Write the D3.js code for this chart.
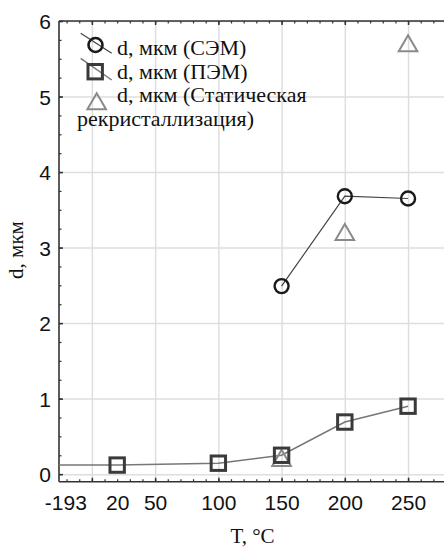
<!DOCTYPE html>
<html><head><meta charset="utf-8">
<script src="https://cdn.jsdelivr.net/npm/d3@7"></script>
<style>
html,body{margin:0;padding:0;background:#fff;}
svg{display:block;}
</style></head>
<body>
<svg id="chart" width="444" height="548"></svg>
<script>
// ---- data ----
const semT = [150, 200, 250];
const semD = [2.49, 3.68, 3.65];
const pemT = [-193, 20, 100, 150, 200, 250];
const pemD = [0.12, 0.12, 0.145, 0.25, 0.69, 0.90];
const statT = [150, 200, 250];
const statD = [0.18, 3.17, 5.67];
const xLabelPos = [-21, 20, 50, 100, 150, 200, 250];
const xLabels = ["-193", "20", "50", "100", "150", "200", "250"];
const yTicks = [0, 1, 2, 3, 4, 5, 6];
const legendLabels = ["d, мкм (СЭМ)", "d, мкм (ПЭМ)", "d, мкм (Статическая", "рекристаллизация)"];

const svg = d3.select("#chart");
const L = 59, R = 446, T = 21, B = 481.7;
const x = d3.scaleLinear().domain([-26, 280]).range([L, R]);
const y = d3.scaleLinear().domain([-0.1, 6]).range([B, T]);
const sans = "'Liberation Sans', Arial, sans-serif";
const serif = "'Liberation Serif', 'Times New Roman', serif";

// clip
svg.append("defs").append("clipPath").attr("id", "clip")
  .append("rect").attr("x", L).attr("y", T).attr("width", R - L).attr("height", B - T);

// grid
const grid = svg.append("g");
grid.append("g").attr("transform", `translate(0,${B})`)
  .call(d3.axisBottom(x).tickValues([0, 50, 100, 150, 200, 250]).tickSize(-(B - T)).tickFormat(""))
  .call(g => g.select(".domain").remove())
  .call(g => g.selectAll("line").attr("stroke", "#dedede").attr("stroke-width", 1.5));
grid.append("g").attr("transform", `translate(${L},0)`)
  .call(d3.axisLeft(y).tickValues(yTicks).tickSize(-(R - L)).tickFormat(""))
  .call(g => g.select(".domain").remove())
  .call(g => g.selectAll("line").attr("stroke", "#dedede").attr("stroke-width", 1.5));

// axes ticks
function styleTicks(g, w) {
  g.select(".domain").remove();
  g.selectAll("line").attr("stroke", "#333").attr("stroke-width", w);
}
const minorX = d3.range(-20, 281, 10);
const majorX = [0, 50, 100, 150, 200, 250];
svg.append("g").attr("transform", `translate(0,${B})`)
  .call(d3.axisBottom(x).tickValues(minorX).tickSize(-2.5).tickFormat("")).call(g => styleTicks(g, 1.2));
svg.append("g").attr("transform", `translate(0,${B})`)
  .call(d3.axisBottom(x).tickValues(majorX).tickSize(-4).tickFormat("")).call(g => styleTicks(g, 1.5));
svg.append("g").attr("transform", `translate(0,${T})`)
  .call(d3.axisTop(x).tickValues(minorX).tickSize(-2.5).tickFormat("")).call(g => styleTicks(g, 1.2));
svg.append("g").attr("transform", `translate(0,${T})`)
  .call(d3.axisTop(x).tickValues(majorX).tickSize(-4).tickFormat("")).call(g => styleTicks(g, 1.5));
const minorY = d3.range(0, 6.01, 0.25);
svg.append("g").attr("transform", `translate(${L},0)`)
  .call(d3.axisLeft(y).tickValues(minorY).tickSize(-2.5).tickFormat("")).call(g => styleTicks(g, 1.2));
svg.append("g").attr("transform", `translate(${L},0)`)
  .call(d3.axisLeft(y).tickValues(yTicks).tickSize(-4).tickFormat("")).call(g => styleTicks(g, 1.5));

// frame lines
svg.append("line").attr("x1", L).attr("x2", L).attr("y1", T).attr("y2", B).attr("stroke", "#333").attr("stroke-width", 1.6);
svg.append("line").attr("x1", L).attr("x2", R).attr("y1", B).attr("y2", B).attr("stroke", "#333").attr("stroke-width", 1.6);
svg.append("line").attr("x1", L).attr("x2", R).attr("y1", T).attr("y2", T).attr("stroke", "#333").attr("stroke-width", 1.6);

// tick labels
svg.append("g").attr("transform", `translate(0,${B})`)
  .call(d3.axisBottom(x).tickValues(xLabelPos).tickSize(0).tickPadding(0).tickFormat((d, i) => xLabels[i]))
  .call(g => g.select(".domain").remove())
  .call(g => g.selectAll("text").attr("y", 28).attr("dy", 0).attr("font-family", sans).attr("font-size", 21).attr("fill", "#111"));
svg.append("g").attr("transform", `translate(${L},0)`)
  .call(d3.axisLeft(y).tickValues(yTicks).tickSize(0).tickPadding(0).tickFormat(d3.format("d")))
  .call(g => g.select(".domain").remove())
  .call(g => g.selectAll("text").attr("x", -8).attr("dy", "0.36em").attr("font-family", sans).attr("font-size", 21).attr("fill", "#111"));

// titles
svg.append("text").attr("x", (L + R) / 2).attr("y", 543).attr("text-anchor", "middle")
  .attr("font-family", serif).attr("font-size", 21).attr("fill", "#111").text("T, °C");
svg.append("text").attr("transform", "translate(23,250) rotate(-90)").attr("text-anchor", "middle")
  .attr("font-family", serif).attr("font-size", 21).attr("fill", "#111").text("d, мкм");

// data
const plot = svg.append("g").attr("clip-path", "url(#clip)");
const line = d3.line().x(d => x(d[0])).y(d => y(d[1]));
const pem = pemT.map((t, i) => [t, pemD[i]]);
const sem = semT.map((t, i) => [t, semD[i]]);
const stat = statT.map((t, i) => [t, statD[i]]);
plot.append("path").datum(pem).attr("d", line).attr("fill", "none").attr("stroke", "#777").attr("stroke-width", 1.5);
plot.append("path").datum(sem).attr("d", line).attr("fill", "none").attr("stroke", "#444").attr("stroke-width", 1.2);

const triSym = d3.symbol().type(d3.symbolTriangle).size(150);
plot.selectAll(".tri").data(stat).join("path")
  .attr("transform", d => `translate(${x(d[0])},${y(d[1])})`).attr("d", triSym)
  .attr("fill", "none").attr("stroke", "#8a8a8a").attr("stroke-width", 2);
plot.selectAll(".sq").data(pem).join("rect")
  .attr("x", d => x(d[0]) - 7.2).attr("y", d => y(d[1]) - 7.2).attr("width", 14.4).attr("height", 14.4)
  .attr("fill", "none").attr("stroke", "#3a3a3a").attr("stroke-width", 3);
plot.selectAll(".ci").data(sem).join("circle")
  .attr("cx", d => x(d[0])).attr("cy", d => y(d[1])).attr("r", 7)
  .attr("fill", "none").attr("stroke", "#1a1a1a").attr("stroke-width", 2.4);

// legend
const lg = svg.append("g");
const rowY = [55, 78.5, 102, 126];
lg.append("line").attr("x1", 80.7).attr("y1", 33.3).attr("x2", 111.7).attr("y2", 53.3).attr("stroke", "#444").attr("stroke-width", 1.2);
lg.append("circle").attr("cx", 95.5).attr("cy", 45).attr("r", 7).attr("fill", "none").attr("stroke", "#1a1a1a").attr("stroke-width", 2.6);
lg.append("line").attr("x1", 80.7).attr("y1", 58.3).attr("x2", 111.7).attr("y2", 80).attr("stroke", "#777").attr("stroke-width", 1.5);
lg.append("rect").attr("x", 88).attr("y", 64.5).attr("width", 14.4).attr("height", 14.4).attr("fill", "none").attr("stroke", "#3a3a3a").attr("stroke-width", 3);
lg.append("path").attr("transform", "translate(96.7,104)").attr("d", triSym).attr("fill", "none").attr("stroke", "#8a8a8a").attr("stroke-width", 2);
lg.selectAll(".lt").data(legendLabels).join("text")
  .attr("x", (d, i) => i === 3 ? 77 : 117).attr("y", (d, i) => rowY[i])
  .attr("font-family", serif).attr("font-size", 22).attr("fill", "#111").text(d => d);
</script>
</body></html>
